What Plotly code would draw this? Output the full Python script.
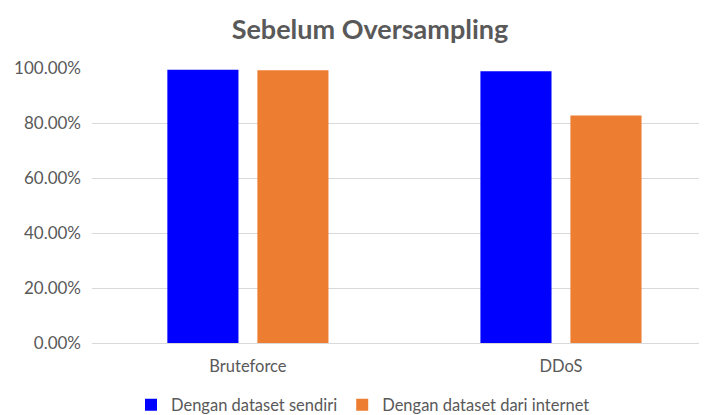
import plotly.graph_objects as go

categories = ["Bruteforce", "DDoS"]
sendiri = [0.994, 0.988]
internet = [0.992, 0.827]
series_names = ["Dengan dataset sendiri", "Dengan dataset dari internet"]
tick_vals = [0, 0.2, 0.4, 0.6, 0.8, 1.0]
tick_text = ["0.00%", "20.00%", "40.00%", "60.00%", "80.00%", "100.00%"]

font_family = "Lato, 'Noto Sans', sans-serif"
grey = "#595959"

fig = go.Figure()
fig.add_trace(go.Bar(x=categories, y=sendiri, name=series_names[0],
                     marker=dict(color="#0000FF", line=dict(width=0))))
fig.add_trace(go.Bar(x=categories, y=internet, name=series_names[1],
                     marker=dict(color="#ED7D31", line=dict(width=0))))

fig.update_layout(
    width=707, height=415,
    paper_bgcolor="white", plot_bgcolor="white",
    margin=dict(l=84, r=0, t=60, b=80, autoexpand=False),
    barmode="group", bargap=0.425, bargroupgap=0.21,
    font=dict(family=font_family, color=grey, size=17),
    title=dict(text="<b>Sebelum Oversampling</b>", x=362/707, xanchor="center",
               xref="container", y=1 - 22/415, yanchor="middle", yref="container",
               font=dict(size=27, color=grey, family=font_family)),
    xaxis=dict(type="category", range=[-0.498, 1.492], showgrid=False,
               showline=True, linecolor="#d9d9d9", linewidth=1, automargin=False,
               ticks="", tickfont=dict(size=16.5, color=grey), ticklabelstandoff=8),
    yaxis=dict(range=[0, 1.0], tickvals=tick_vals, ticktext=tick_text,
               showgrid=True, gridcolor="#d9d9d9", gridwidth=1, automargin=False,
               zeroline=True, zerolinecolor="#d9d9d9", zerolinewidth=1,
               showline=False, ticks="", tickfont=dict(size=17, color=grey),
               ticklabelstandoff=10),
    legend=dict(orientation="h", xref="container", yref="paper",
                x=355/707, xanchor="center", y=-62/275, yanchor="middle",
                font=dict(size=16.5, color=grey), itemwidth=30,
                traceorder="normal"),
    showlegend=True,
)

fig.write_html("out.html")
